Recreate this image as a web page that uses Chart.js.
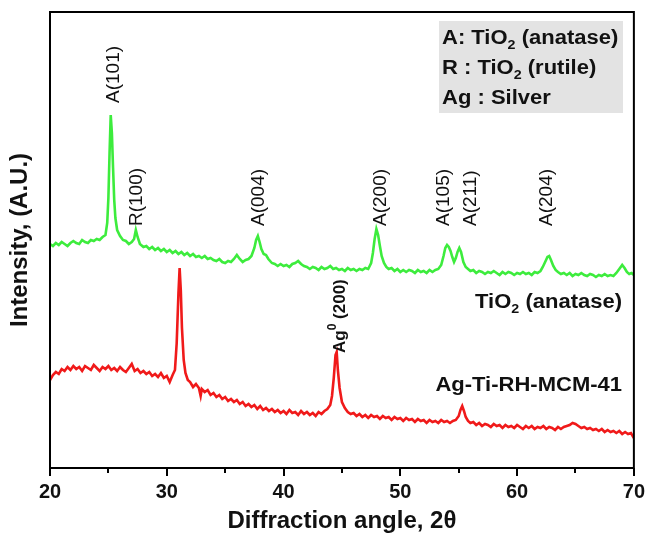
<!DOCTYPE html>
<html>
<head>
<meta charset="utf-8">
<script src="https://cdn.jsdelivr.net/npm/chart.js@4.4.1/dist/chart.umd.min.js"></script>
<style>
  body { margin: 0; background: #fff; }
</style>
</head>
<body>
<canvas id="xrd" width="649" height="538"></canvas>
<script>
// [2theta, intensity] (arbitrary units)
var tio2 = [
  [20.00,224],[20.25,222],[20.50,225],[20.75,223],[21.00,226],[21.25,224],[21.50,222],[21.75,225],
  [22.00,227],[22.25,225],[22.50,224],[22.75,228],[23.00,226],[23.25,225],[23.50,228],[23.75,227],
  [24.00,229],[24.25,228],[24.50,231],[24.75,233],[24.90,245],[25.00,270],[25.10,315],[25.20,353],
  [25.30,335],[25.40,300],[25.50,268],[25.60,250],[25.75,238],[26.00,232],[26.25,228],[26.50,227],
  [26.75,224],[27.00,226],[27.20,229],[27.35,238],[27.50,231],[27.70,224],[28.00,221],[28.25,222],
  [28.50,219],[28.75,221],[29.00,218],[29.25,220],[29.50,217],[29.75,219],[30.00,216],[30.25,218],
  [30.50,215],[30.75,217],[31.00,214],[31.25,216],[31.50,213],[31.75,215],[32.00,212],[32.25,214],
  [32.50,211],[32.75,212],[33.00,210],[33.25,212],[33.50,209],[33.75,210],[34.00,208],[34.25,207],
  [34.50,209],[34.75,206],[35.00,205],[35.25,207],[35.50,206],[35.75,209],[36.00,213],[36.25,209],
  [36.50,206],[36.75,208],[37.00,209],[37.25,212],[37.50,220],[37.65,228],[37.80,232],[37.95,226],
  [38.10,219],[38.30,214],[38.50,213],[38.70,209],[39.00,205],[39.25,204],[39.50,202],[39.75,204],
  [40.00,202],[40.25,203],[40.50,201],[40.75,204],[41.00,205],[41.25,207],[41.50,204],[41.75,202],
  [42.00,201],[42.25,199],[42.50,201],[42.75,200],[43.00,198],[43.25,201],[43.50,199],[43.75,200],
  [44.00,202],[44.25,199],[44.50,200],[44.75,198],[45.00,199],[45.25,197],[45.50,200],[45.75,198],
  [46.00,199],[46.25,197],[46.50,199],[46.75,198],[47.00,200],[47.25,199],[47.50,205],[47.65,215],
  [47.80,229],[47.95,239],[48.10,233],[48.25,222],[48.40,212],[48.60,205],[48.80,201],[49.00,199],
  [49.25,200],[49.50,197],[49.75,199],[50.00,196],[50.25,198],[50.50,196],[50.75,198],[51.00,197],
  [51.25,195],[51.50,198],[51.75,196],[52.00,197],[52.25,195],[52.50,198],[52.75,196],[53.00,198],
  [53.25,199],[53.50,203],[53.70,212],[53.85,220],[54.00,223],[54.15,221],[54.30,217],[54.45,211],
  [54.60,206],[54.75,210],[54.90,216],[55.05,220],[55.20,216],[55.40,206],[55.60,201],[55.80,199],
  [56.00,197],[56.25,198],[56.50,195],[56.75,197],[57.00,196],[57.25,194],[57.50,196],[57.75,195],
  [58.00,197],[58.25,195],[58.50,193],[58.75,196],[59.00,194],[59.25,196],[59.50,195],[59.75,193],
  [60.00,195],[60.25,194],[60.50,196],[60.75,194],[61.00,195],[61.25,193],[61.50,196],[61.75,195],
  [62.00,197],[62.20,201],[62.40,206],[62.60,211],[62.75,212],[62.90,208],[63.10,202],[63.30,198],
  [63.50,196],[63.75,194],[64.00,195],[64.25,193],[64.50,195],[64.75,192],[65.00,194],[65.25,193],
  [65.50,195],[65.75,193],[66.00,192],[66.25,194],[66.50,193],[66.75,191],[67.00,193],[67.25,192],
  [67.50,194],[67.75,192],[68.00,193],[68.25,192],[68.50,195],[68.75,199],[69.00,203],[69.20,200],
  [69.40,196],[69.60,194],[69.80,195],[70.00,193]
];

var agTi = [
  [20.00,88],[20.25,93],[20.50,96],[20.75,94],[21.00,99],[21.25,97],[21.50,101],[21.75,98],
  [22.00,102],[22.25,99],[22.50,101],[22.75,97],[23.00,102],[23.25,100],[23.50,98],[23.75,103],
  [24.00,100],[24.25,97],[24.50,101],[24.75,99],[25.00,102],[25.25,98],[25.50,100],[25.75,97],
  [26.00,101],[26.25,98],[26.50,96],[26.75,100],[27.00,104],[27.25,97],[27.50,99],[27.75,95],
  [28.00,97],[28.25,94],[28.50,96],[28.75,92],[29.00,94],[29.25,91],[29.50,95],[29.75,90],
  [30.00,92],[30.25,86],[30.50,93],[30.70,98],[30.85,125],[31.00,175],[31.10,200],[31.20,178],
  [31.30,140],[31.45,108],[31.60,95],[31.80,88],[32.00,86],[32.25,81],[32.50,84],[32.75,80],
  [32.90,72],[33.00,79],[33.25,76],[33.50,78],[33.75,73],[34.00,75],[34.25,71],[34.50,73],
  [34.75,69],[35.00,71],[35.25,67],[35.50,69],[35.75,66],[36.00,68],[36.25,64],[36.50,66],
  [36.75,62],[37.00,64],[37.25,61],[37.50,63],[37.75,59],[38.00,62],[38.25,58],[38.50,60],
  [38.75,57],[39.00,59],[39.25,56],[39.50,58],[39.75,55],[40.00,57],[40.25,54],[40.50,58],
  [40.75,55],[41.00,56],[41.25,53],[41.50,57],[41.75,54],[42.00,56],[42.25,53],[42.50,55],
  [42.75,52],[43.00,56],[43.25,54],[43.50,57],[43.75,59],[44.00,63],[44.15,72],[44.30,90],
  [44.45,113],[44.55,116],[44.65,98],[44.80,80],[45.00,66],[45.25,60],[45.50,56],[45.75,54],
  [46.00,55],[46.25,52],[46.50,54],[46.75,51],[47.00,53],[47.25,50],[47.50,53],[47.75,51],
  [48.00,52],[48.25,49],[48.50,52],[48.75,50],[49.00,51],[49.25,48],[49.50,51],[49.75,49],
  [50.00,50],[50.25,47],[50.50,50],[50.75,48],[51.00,49],[51.25,46],[51.50,49],[51.75,47],
  [52.00,48],[52.25,45],[52.50,48],[52.75,46],[53.00,47],[53.25,45],[53.50,48],[53.75,46],
  [54.00,47],[54.25,45],[54.50,47],[54.75,48],[55.00,52],[55.15,58],[55.30,62],[55.45,57],
  [55.60,51],[55.80,47],[56.00,45],[56.25,46],[56.50,43],[56.75,45],[57.00,42],[57.25,44],
  [57.50,43],[57.75,41],[58.00,44],[58.25,42],[58.50,43],[58.75,40],[59.00,43],[59.25,41],
  [59.50,42],[59.75,40],[60.00,43],[60.25,41],[60.50,39],[60.75,42],[61.00,40],[61.25,42],
  [61.50,39],[61.75,41],[62.00,40],[62.25,42],[62.50,39],[62.75,41],[63.00,40],[63.25,38],
  [63.50,41],[63.75,39],[64.00,41],[64.25,42],[64.50,43],[64.75,45],[65.00,44],[65.25,42],
  [65.50,40],[65.75,41],[66.00,39],[66.25,40],[66.50,38],[66.75,39],[67.00,37],[67.25,39],
  [67.50,36],[67.75,38],[68.00,36],[68.25,37],[68.50,35],[68.75,37],[69.00,34],[69.25,36],
  [69.50,34],[69.75,35],[70.00,30]
];

var xTicks = [20, 30, 40, 50, 60, 70];
var xMinorTicks = [25, 35, 45, 55, 65];

// peak labels: text, 2theta, intensity where the (rotated) text starts
var peakNames = ['A(101)', 'R(100)', 'A(004)', 'A(200)', 'A(105)', 'A(211)', 'A(204)'];
var peakAngles = [25.5, 27.45, 37.9, 48.3, 53.7, 56.0, 62.5];
var peakStart = [365, 242, 242, 242, 242, 242, 242];

var FONT = '"Liberation Sans", Arial, sans-serif';

function toXY(arr) {
  return arr.map(function (p) { return { x: p[0], y: p[1] }; });
}

// draw a list of text runs (for sub/superscripts), optionally stretched horizontally
function richText(ctx, runs, x, y, align, sx) {
  sx = sx || 1;
  var w = 0;
  runs.forEach(function (r) { ctx.font = r.f; w += ctx.measureText(r.t).width; });
  ctx.save();
  ctx.translate(x, y);
  ctx.scale(sx, 1);
  var cx = align === 'right' ? -w : (align === 'center' ? -w / 2 : 0);
  ctx.textAlign = 'left';
  runs.forEach(function (r) {
    ctx.font = r.f;
    ctx.fillText(r.t, cx, r.dy || 0);
    cx += ctx.measureText(r.t).width;
  });
  ctx.restore();
}

var b20 = 'bold 20px ' + FONT;
var b13 = 'bold 13px ' + FONT;

var extras = {
  id: 'extras',
  afterDraw: function (chart) {
    var ctx = chart.ctx;
    var a = chart.chartArea;
    var xs = chart.scales.x, ys = chart.scales.y;

    // frame
    ctx.save();
    ctx.strokeStyle = '#000';
    ctx.lineWidth = 2;
    ctx.strokeRect(a.left, a.top, a.right - a.left, a.bottom - a.top);

    // minor ticks
    ctx.lineWidth = 2;
    xMinorTicks.forEach(function (v) {
      var px = Math.round(xs.getPixelForValue(v));
      ctx.beginPath();
      ctx.moveTo(px, a.bottom);
      ctx.lineTo(px, a.bottom + 5);
      ctx.stroke();
    });

    ctx.fillStyle = '#111';
    ctx.textBaseline = 'middle';

    // peak labels (rotated)
    ctx.font = '19px ' + FONT;
    peakNames.forEach(function (t, i) {
      ctx.save();
      ctx.translate(xs.getPixelForValue(peakAngles[i]), ys.getPixelForValue(peakStart[i]));
      ctx.rotate(-Math.PI / 2);
      ctx.textAlign = 'left';
      ctx.fillText(t, 0, 0);
      ctx.restore();
    });

    // Ag0(200) label
    ctx.save();
    ctx.translate(xs.getPixelForValue(44.85), ys.getPixelForValue(115));
    ctx.rotate(-Math.PI / 2);
    richText(ctx, [
      { t: 'Ag', f: 'bold 17px ' + FONT },
      { t: '0', f: 'bold 12px ' + FONT, dy: -7 },
      { t: ' (200)', f: 'bold 17px ' + FONT }
    ], 0, 0, 'left');
    ctx.restore();

    ctx.textBaseline = 'alphabetic';

    // sample names
    richText(ctx, [
      { t: 'TiO', f: b20 }, { t: '2', f: b13, dy: 5 }, { t: ' (anatase)', f: b20 }
    ], 622, 308, 'right', 1.1);
    richText(ctx, [{ t: 'Ag-Ti-RH-MCM-41', f: b20 }], 622, 391, 'right', 1.1);

    // phase key
    ctx.fillStyle = '#e3e3e3';
    ctx.fillRect(439, 21, 184, 92);
    ctx.fillStyle = '#111';
    richText(ctx, [
      { t: 'A: TiO', f: b20 }, { t: '2', f: b13, dy: 5 }, { t: ' (anatase)', f: b20 }
    ], 442, 44, 'left', 1.1);
    richText(ctx, [
      { t: 'R : TiO', f: b20 }, { t: '2', f: b13, dy: 5 }, { t: ' (rutile)', f: b20 }
    ], 442, 74, 'left', 1.1);
    richText(ctx, [{ t: 'Ag : Silver', f: b20 }], 442, 104, 'left', 1.1);
    ctx.restore();
  }
};

var ctx = document.getElementById('xrd').getContext('2d');
var chart = new Chart(ctx, {
  type: 'line',
  data: {
    datasets: [
      {
        label: 'TiO2 (anatase)',
        data: toXY(tio2),
        borderColor: '#3dec3d',
        borderWidth: 2.6,
        pointRadius: 0,
        tension: 0
      },
      {
        label: 'Ag-Ti-RH-MCM-41',
        data: toXY(agTi),
        borderColor: '#f01a1a',
        borderWidth: 2.6,
        pointRadius: 0,
        tension: 0
      }
    ]
  },
  options: {
    responsive: false,
    animation: false,
    layout: { padding: { top: 12, right: 12, left: 0, bottom: 0 } },
    plugins: {
      legend: { display: false },
      tooltip: { enabled: false }
    },
    scales: {
      x: {
        type: 'linear',
        min: 20,
        max: 70,
        afterFit: function (s) { s.height = 70; },
        afterBuildTicks: function (s) {
          s.ticks = xTicks.map(function (v) { return { value: v }; });
        },
        ticks: {
          color: '#111',
          padding: 4,
          font: { family: FONT, size: 20, weight: 'bold' }
        },
        grid: {
          display: true,
          drawOnChartArea: false,
          drawTicks: true,
          tickLength: 8,
          color: '#000',
          lineWidth: 2
        },
        border: { display: false },
        title: {
          display: true,
          text: 'Diffraction angle, 2θ',
          color: '#111',
          padding: { top: 0, bottom: 2 },
          font: { family: FONT, size: 24, weight: 'bold' }
        }
      },
      y: {
        min: 0,
        max: 456,
        afterFit: function (s) { s.width = 50; },
        ticks: { display: false },
        grid: { display: false },
        border: { display: false },
        title: {
          display: true,
          text: 'Intensity, (A.U.)',
          color: '#111',
          padding: { top: 6, bottom: 0 },
          font: { family: FONT, size: 24, weight: 'bold' }
        }
      }
    }
  },
  plugins: [extras]
});
</script>
</body>
</html>
